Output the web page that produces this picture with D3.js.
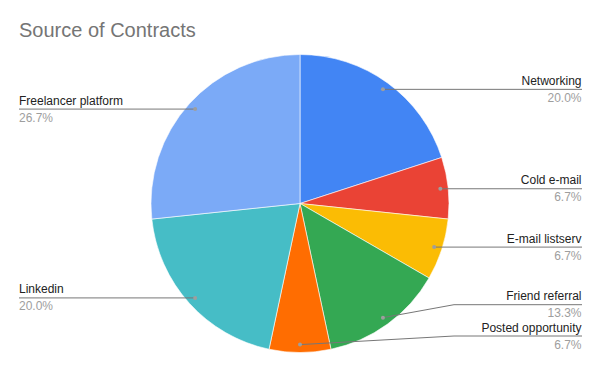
<!DOCTYPE html>
<html><head><meta charset="utf-8">
<script src="https://cdn.jsdelivr.net/npm/d3@7"></script>
<style>html,body{margin:0;padding:0;background:#fff;}svg{display:block;font-family:"Liberation Sans",Arial,sans-serif;}</style>
</head><body>
<svg id="c" width="600" height="371"></svg>
<script>
const title = "Source of Contracts";
const categories = ["Networking","Cold e-mail","E-mail listserv","Friend referral","Posted opportunity","Linkedin","Freelancer platform"];
const values = [3,1,1,2,1,3,4];
const percentLabels = ["20.0%","6.7%","6.7%","13.3%","6.7%","20.0%","26.7%"];
const colors = ["#4285F4","#EA4335","#FBBC04","#34A853","#FF6D01","#46BDC6","#7BAAF7"];

const W = 600, H = 371;
const cx = 300, cy = 203.5, R = 149;
const svg = d3.select("#c");

svg.append("text").attr("x", 19).attr("y", 37)
  .attr("font-size", 20).attr("fill", "#757575").text(title);

const pie = d3.pie().sort(null).value(d => d)(values);
const arc = d3.arc().innerRadius(0).outerRadius(R);
const g = svg.append("g").attr("transform", `translate(${cx},${cy})`);
g.selectAll("path").data(pie).join("path")
  .attr("d", arc).attr("fill", (d,i) => colors[i])
  .attr("stroke", "#fff").attr("stroke-width", 0.6);

// label layout
const dotR = R * 0.947;
const items = pie.map((d,i) => {
  const a = (d.startAngle + d.endAngle) / 2;
  const x = cx + dotR * Math.sin(a), y = cy - dotR * Math.cos(a);
  return {i, a, x, y, right: Math.sin(a) >= 0, ly: y};
});
const spacing = 31.3, bottomLimit = 336;
["right","left"].forEach(side => {
  const arr = items.filter(d => (side === "right") === d.right).sort((a,b) => a.y - b.y);
  for (let k = arr.length - 1; k >= 0; k--) {
    let lim = k === arr.length - 1 ? bottomLimit : arr[k+1].ly - spacing;
    arr[k].ly = Math.min(arr[k].y, lim);
  }
});

const lab = svg.append("g");
items.forEach(d => {
  const elbowX = d.right ? cx + R + 5 : cx - R - 5;
  const endX = d.right ? 582 : 19;
  lab.append("path")
    .attr("d", `M${d.x},${d.y}L${elbowX},${d.ly}L${endX},${d.ly}`)
    .attr("fill", "none").attr("stroke", "#777").attr("stroke-width", 1);
  lab.append("circle").attr("cx", d.x).attr("cy", d.y).attr("r", 2).attr("fill", "#9e9e9e");
  const tx = d.right ? 581.5 : 19;
  const anchor = d.right ? "end" : "start";
  lab.append("text").attr("x", tx).attr("y", d.ly - 4.5).attr("text-anchor", anchor)
    .attr("font-size", 12).attr("fill", "#222").text(categories[d.i]);
  lab.append("text").attr("x", tx).attr("y", d.ly + 12.5).attr("text-anchor", anchor)
    .attr("font-size", 12).attr("fill", "#9e9e9e").text(percentLabels[d.i]);
});
</script>
</body></html>
